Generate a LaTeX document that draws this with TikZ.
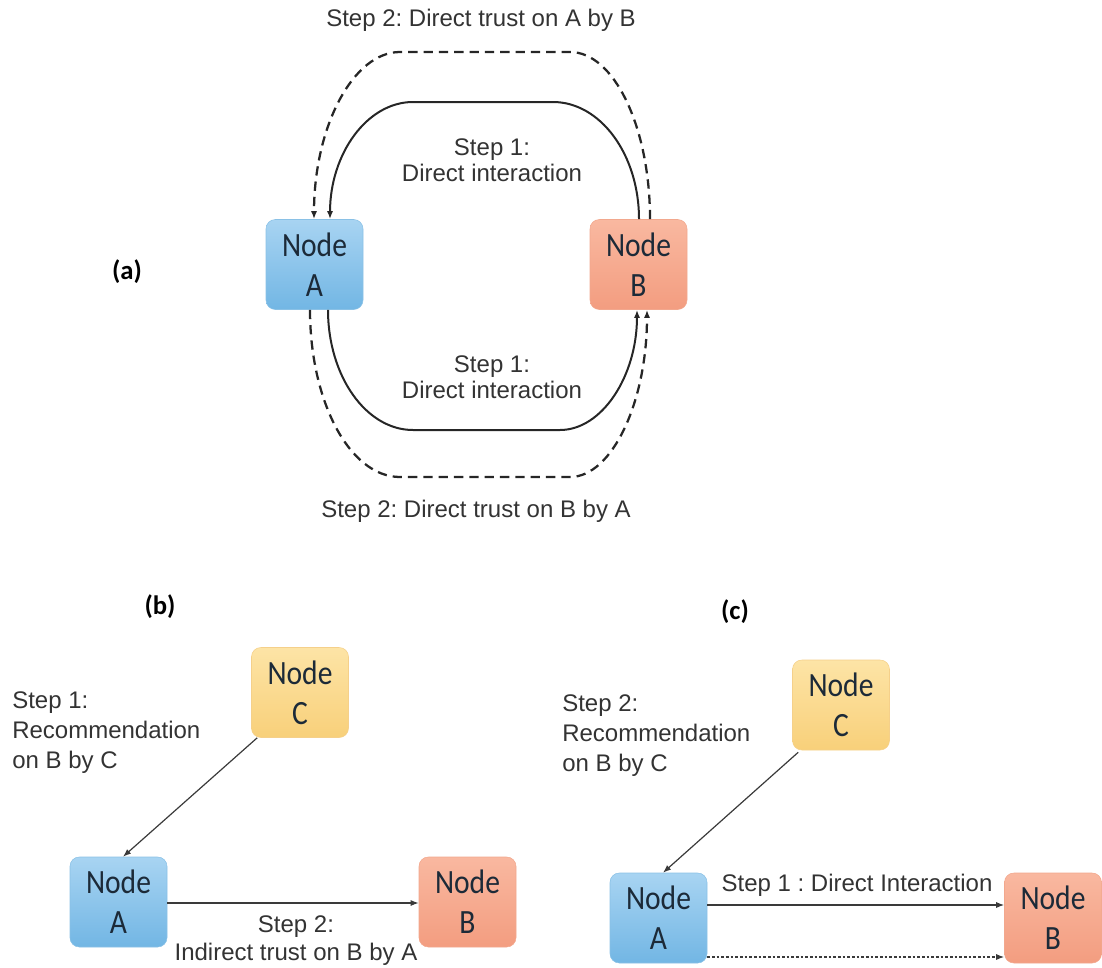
\documentclass[tikz,border=0pt]{standalone}
\usepackage{fontspec}
\setmainfont{Liberation Sans}
\newfontfamily\nodefont[FakeStretch=0.87]{Carlito}
\newfontfamily\tagfont{Carlito}
\usetikzlibrary{arrows.meta,calc}
\definecolor{nodetext}{HTML}{1C2A38}
\definecolor{labeltext}{HTML}{333333}
\definecolor{linegray}{HTML}{3A3A3A}
\definecolor{blueT}{HTML}{A8D4F2}
\definecolor{blueB}{HTML}{72B6E4}
\definecolor{blueD}{HTML}{8AC1E6}
\definecolor{salT}{HTML}{F9B8A0}
\definecolor{salB}{HTML}{F39D80}
\definecolor{salD}{HTML}{F2A88E}
\definecolor{yelT}{HTML}{FDE4A6}
\definecolor{yelB}{HTML}{F8D07A}
\definecolor{yelD}{HTML}{F5D08A}
\frenchspacing
\begin{document}
\begin{tikzpicture}[x=0.75pt,y=-0.75pt,
  box/.style={rounded corners=7pt, minimum width=72.75pt, minimum height=67.5pt,
    inner sep=0pt, align=center, text=nodetext,
    font=\nodefont\fontsize{25.5}{30}\selectfont},
  nodeblue/.style={box, draw=blueD, top color=blueT, bottom color=blueB},
  nodesal/.style={box, draw=salD, top color=salT, bottom color=salB},
  nodeyel/.style={box, draw=yelD, top color=yelT, bottom color=yelB},
  lbl/.style={inner sep=0pt, align=center, text=labeltext, font=\fontsize{18}{19.5}\selectfont},
  tag/.style={inner sep=0pt, text=black, font=\tagfont\bfseries\fontsize{20}{24}\selectfont},
  conn/.style={line width=1.5pt, draw=black!85, -{Latex[length=6pt,width=4.5pt]}},
  dashconn/.style={conn, line width=1.7pt, dash pattern=on 7pt off 4.5pt},
  thinconn/.style={line width=0.9pt, draw=linegray, -{Latex[length=6pt,width=4.5pt]}}
]
\useasboundingbox (0,0) rectangle (1102,967);

% ---------- (a) ----------
\node[nodeblue] (Aa) at (314.5,264.5) {Node\\A};
\node[nodesal]  (Ba) at (638.5,264.5) {Node\\B};
\node[tag] (ta) at (127,272) {(a)};

\node[lbl] (ttop) at (481,20) {Step 2: Direct trust on A by B};
\node[lbl] (l1top) at (492,160) {Step 1:\\Direct interaction};
\node[lbl] (l1bot) at (492,377) {Step 1:\\Direct interaction};
\node[lbl] (tbot) at (476,511) {Step 2: Direct trust on B by A};

% solid top: B -> A
\draw[conn] ($(Ba.north)+(0.5,0)$)
  .. controls (639,154) and (600,102) .. (553,102) -- (413,102)
  .. controls (367,102) and (330,154) .. ($(Aa.north)+(15.5,0)$);
% dashed top: B -> A
\draw[dashconn] ($(Ba.north)+(11.5,0)$)
  .. controls (650,127) and (614,52) .. (570,52) -- (400,52)
  .. controls (353,52) and (314,127) .. ($(Aa.north)+(-0.5,0)$);
% solid bottom: A -> B
\draw[conn] ($(Aa.south)+(13.5,0)$)
  .. controls (328,376) and (366,430) .. (413,430) -- (560,430)
  .. controls (602,430) and (637,376) .. ($(Ba.south)+(-1.5,0)$);
% dashed bottom: A -> B
\draw[dashconn] ($(Aa.south)+(-4.5,0)$)
  .. controls (310,402) and (350,477) .. (400,477) -- (570,477)
  .. controls (612,477) and (647,402) .. ($(Ba.south)+(8.5,0)$);

% ---------- (b) ----------
\node[tag] (tb) at (160,607) {(b)};
\node[nodeyel]  (Cb) at (300,692.5) {Node\\C};
\node[nodeblue] (Ab) at (118.5,902) {Node\\A};
\node[nodesal]  (Bb) at (467.5,902) {Node\\B};
\node[lbl, align=left, anchor=west, font=\fontsize{18}{22.5}\selectfont] (lb1) at (12,733) {Step 1:\\Recommendation\\on B by C};
\node[lbl, font=\fontsize{18}{21}\selectfont] (lb2) at (296,941) {Step 2:\\Indirect trust on B by A};
\draw[thinconn] ($(Cb.south west)+(6,0)$) -- ($(Ab.north)+(4.5,0)$);
\draw[thinconn] ($(Ab.east)+(0,1)$) -- ($(Bb.west)+(0,1)$);

% ---------- (c) ----------
\node[tag] (tc) at (735,612) {(c)};
\node[nodeyel]  (Cc) at (841,705) {Node\\C};
\node[nodeblue] (Ac) at (658.5,918) {Node\\A};
\node[nodesal]  (Bc) at (1053,918) {Node\\B};
\node[lbl, align=left, anchor=west, font=\fontsize{18}{22.5}\selectfont] (lc1) at (562,736) {Step 2:\\Recommendation\\on B by C};
\node[lbl] (lc2) at (857,885) {Step 1 : Direct Interaction};
\draw[thinconn] ($(Cc.south west)+(6,2)$) -- ($(Ac.north)+(4.5,0)$);
\draw[thinconn] ($(Ac.east)+(0,-13)$) -- ($(Bc.west)+(0,-13)$);
\draw[thinconn, dash pattern=on 2pt off 1.5pt] ($(Ac.east)+(0,39)$) -- ($(Bc.west)+(0,39)$);
\end{tikzpicture}
\end{document}
